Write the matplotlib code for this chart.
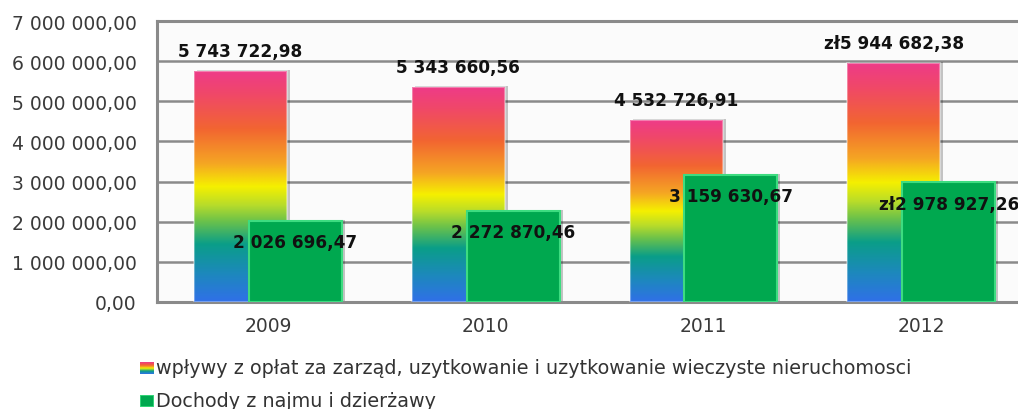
import matplotlib
matplotlib.use("Agg")
import matplotlib.pyplot as plt
import numpy as np
from matplotlib.colors import LinearSegmentedColormap
from matplotlib.patches import Rectangle
from matplotlib import transforms
from matplotlib.ticker import FuncFormatter, MultipleLocator

# ---- data ----
years = ["2009", "2010", "2011", "2012"]
fees = [5743722.98, 5343660.56, 4532726.91, 5944682.38]
rent = [2026696.47, 2272870.46, 3159630.67, 2978927.26]
fee_prefix = ["", "", "", "zł"]
rent_prefix = ["", "", "", "zł"]
legend_labels = [
    "wpływy z opłat za zarząd, uzytkowanie i uzytkowanie wieczyste nieruchomosci",
    "Dochody z najmu i dzierżawy",
]

def pl_fmt(v):
    return f"{v:,.2f}".replace(",", " ").replace(".", ",")

W, H = 1018, 410
fig = plt.figure(figsize=(W / 100, H / 100), dpi=100)
fig.patch.set_facecolor("white")

ax_left = 157 / W
ax_bottom = (H - 303) / H
ax_top = (H - 22) / H
ax = fig.add_axes([ax_left, ax_bottom, 871 / W, ax_top - ax_bottom])
ax.set_facecolor("#fbfbfb")

grad_cmap = LinearSegmentedColormap.from_list(
    "rainbow_bar",
    [
        (0.00, "#3070e8"),
        (0.12, "#1d88bd"),
        (0.25, "#0a9e88"),
        (0.35, "#6cc24a"),
        (0.42, "#b8dc2a"),
        (0.50, "#f5f000"),
        (0.60, "#f5a623"),
        (0.75, "#f26531"),
        (0.90, "#f04868"),
        (1.00, "#ee3b88"),
    ],
)

x = np.arange(len(years))
bw = 0.427
off = 0.126
shadow_tr = transforms.offset_copy(ax.transData, fig=fig, x=3, y=1, units="dots")
grad = np.linspace(0, 1, 256).reshape(-1, 1)

for i, xi in enumerate(x):
    # gradient bar
    x0 = xi - off - bw / 2
    ax.add_patch(Rectangle((x0, 0), bw, fees[i], facecolor="black", alpha=0.22,
                           edgecolor="none", transform=shadow_tr, zorder=2))
    ax.imshow(grad, cmap=grad_cmap, origin="lower", aspect="auto",
              extent=(x0, x0 + bw, 0, fees[i]), zorder=3, interpolation="bilinear")
    ax.add_patch(Rectangle((x0, 0), bw, fees[i], facecolor="none",
                           edgecolor=(1, 1, 1, 0.35), lw=1.5, zorder=3.5))
    # green bar
    g0 = xi + off - bw / 2
    ax.add_patch(Rectangle((g0, 0), bw, rent[i], facecolor="black", alpha=0.22,
                           edgecolor="none", transform=shadow_tr, zorder=4))
    ax.add_patch(Rectangle((g0, 0), bw, rent[i], facecolor="#00a84f",
                           edgecolor="#3ddc80", lw=1.5, zorder=5))
    # labels
    ax.text(xi - off, fees[i] + 500000, fee_prefix[i] + pl_fmt(fees[i]),
            ha="center", va="center", fontsize=12.2, fontweight="bold",
            family="DejaVu Sans", color="#111111", zorder=6)
    ax.text(xi + off, rent[i] - 530000, rent_prefix[i] + pl_fmt(rent[i]),
            ha="center", va="center", fontsize=12.2, fontweight="bold",
            family="DejaVu Sans", color="#111111", zorder=6)

ax.set_xlim(-0.51, 3.49)
ax.set_ylim(0, 7000000)
ax.yaxis.set_major_locator(MultipleLocator(1000000))
ax.yaxis.set_major_formatter(FuncFormatter(lambda v, p: pl_fmt(v)))
ax.set_xticks(x)
ax.set_xticklabels(years)
ax.tick_params(axis="y", length=0, pad=14.5, labelsize=13.5, labelcolor="#3a3a3a")
ax.tick_params(axis="x", length=0, pad=10, labelsize=13.5, labelcolor="#3a3a3a")
ax.grid(axis="y", color="#8a8a8a", lw=1.8, zorder=1)
ax.set_axisbelow(True)
for s in ["left", "bottom", "top"]:
    ax.spines[s].set_color("#8a8a8a")
    ax.spines[s].set_linewidth(2.2)
ax.spines["right"].set_visible(False)

# ---- legend ----
sw = fig.add_axes([140 / W, 1 - 375 / H, 14 / W, 12 / H])
sw.imshow(grad, cmap=grad_cmap, origin="lower", aspect="auto", extent=(0, 1, 0, 1))
sw.set_axis_off()
sw2 = fig.add_axes([140 / W, 1 - 408 / H, 14 / W, 12 / H])
sw2.add_patch(Rectangle((0, 0), 1, 1, facecolor="#00a84f", edgecolor="#3ddc80", lw=1.2))
sw2.set_xlim(0, 1); sw2.set_ylim(0, 1)
sw2.set_axis_off()
fig.text(156 / W, 1 - 369 / H, legend_labels[0], ha="left", va="center",
         fontsize=13.8, family="DejaVu Sans", color="#333333")
fig.text(156 / W, 1 - 402 / H, legend_labels[1], ha="left", va="center",
         fontsize=13.8, family="DejaVu Sans", color="#333333")

fig.savefig("out.png", dpi=100)
